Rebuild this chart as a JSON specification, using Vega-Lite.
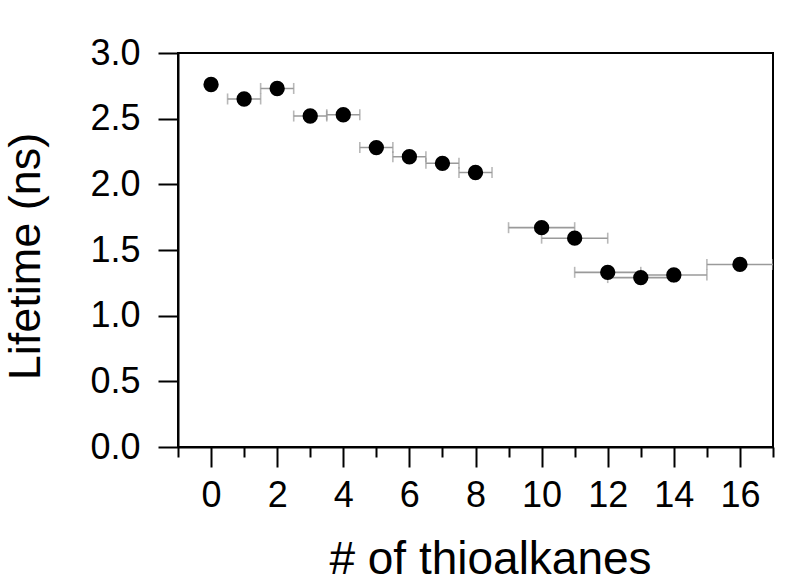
{
  "$schema": "https://vega.github.io/schema/vega-lite/v6.json",
  "width": 595,
  "height": 394,
  "autosize": {"type": "none"},
  "padding": {"left": 178, "top": 53, "right": 27, "bottom": 138},
  "background": "white",
  "config": {
    "view": {"stroke": "black", "strokeWidth": 2},
    "font": "Liberation Sans"
  },
  "data": {
    "values": [
      {"n": 0, "lifetime": 2.76, "lo": null, "hi": null},
      {"n": 1, "lifetime": 2.65, "lo": 0.5, "hi": 1.5},
      {"n": 2, "lifetime": 2.73, "lo": 1.5, "hi": 2.5},
      {"n": 3, "lifetime": 2.52, "lo": 2.5, "hi": 3.5},
      {"n": 4, "lifetime": 2.53, "lo": 3.5, "hi": 4.5},
      {"n": 5, "lifetime": 2.28, "lo": 4.5, "hi": 5.5},
      {"n": 6, "lifetime": 2.21, "lo": 5.5, "hi": 6.5},
      {"n": 7, "lifetime": 2.16, "lo": 6.5, "hi": 7.5},
      {"n": 8, "lifetime": 2.09, "lo": 7.5, "hi": 8.5},
      {"n": 10, "lifetime": 1.67, "lo": 9, "hi": 11},
      {"n": 11, "lifetime": 1.59, "lo": 10, "hi": 12},
      {"n": 12, "lifetime": 1.33, "lo": 11, "hi": 13},
      {"n": 13, "lifetime": 1.29, "lo": 12, "hi": 14},
      {"n": 14, "lifetime": 1.31, "lo": 13, "hi": 15},
      {"n": 16, "lifetime": 1.39, "lo": 15, "hi": 17}
    ]
  },
  "layer": [
    {
      "transform": [{"filter": "datum.lo != null"}],
      "mark": {"type": "errorbar", "ticks": true, "color": "#9a9a9a", "thickness": 1.6, "size": 11, "clip": true},
      "encoding": {
        "x": {
          "field": "lo", "type": "quantitative",
          "scale": {"domain": [-1, 17], "nice": false, "zero": false},
          "axis": {
            "title": "# of thioalkanes",
            "values": [-1, 0, 1, 2, 3, 4, 5, 6, 7, 8, 9, 10, 11, 12, 13, 14, 15, 16, 17],
            "labelExpr": "datum.value % 2 === 0 ? datum.label : ''",
            "tickSize": {"condition": {"test": "datum.value % 2 === 0", "value": 20}, "value": 10},
            "tickColor": "black", "tickWidth": 2,
            "domainColor": "black", "domainWidth": 2,
            "labelFontSize": 36, "labelColor": "black", "labelPadding": 11,
            "titleFontSize": 46, "titleFontWeight": "normal", "titleColor": "black", "titlePadding": 24,
            "titleX": 312, "titleAlign": "center",
            "grid": false
          }
        },
        "x2": {"field": "hi"},
        "y": {"field": "lifetime", "type": "quantitative"}
      }
    },
    {
      "mark": {"type": "circle", "size": 235, "color": "black", "opacity": 1},
      "encoding": {
        "x": {
          "field": "n", "type": "quantitative",
          "scale": {"domain": [-1, 17], "nice": false, "zero": false},
          "axis": {
            "title": "# of thioalkanes",
            "values": [-1, 0, 1, 2, 3, 4, 5, 6, 7, 8, 9, 10, 11, 12, 13, 14, 15, 16, 17],
            "labelExpr": "datum.value % 2 === 0 ? datum.label : ''",
            "tickSize": {"condition": {"test": "datum.value % 2 === 0", "value": 20}, "value": 10},
            "tickColor": "black", "tickWidth": 2,
            "domainColor": "black", "domainWidth": 2,
            "labelFontSize": 36, "labelColor": "black", "labelPadding": 11,
            "titleFontSize": 46, "titleFontWeight": "normal", "titleColor": "black", "titlePadding": 24,
            "titleX": 312, "titleAlign": "center",
            "grid": false
          }
        },
        "y": {
          "field": "lifetime", "type": "quantitative",
          "scale": {"domain": [0, 3], "nice": false},
          "axis": {
            "title": "Lifetime (ns)",
            "values": [0, 0.5, 1, 1.5, 2, 2.5, 3],
            "format": ".1f",
            "tickSize": 20, "tickColor": "black", "tickWidth": 2,
            "domainColor": "black", "domainWidth": 2,
            "labelFontSize": 36, "labelColor": "black", "labelPadding": 18,
            "titleFontSize": 45, "titleFontWeight": "normal", "titleColor": "black", "titlePadding": 41,
            "titleY": 203, "titleAlign": "center",
            "grid": false
          }
        }
      }
    }
  ]
}
